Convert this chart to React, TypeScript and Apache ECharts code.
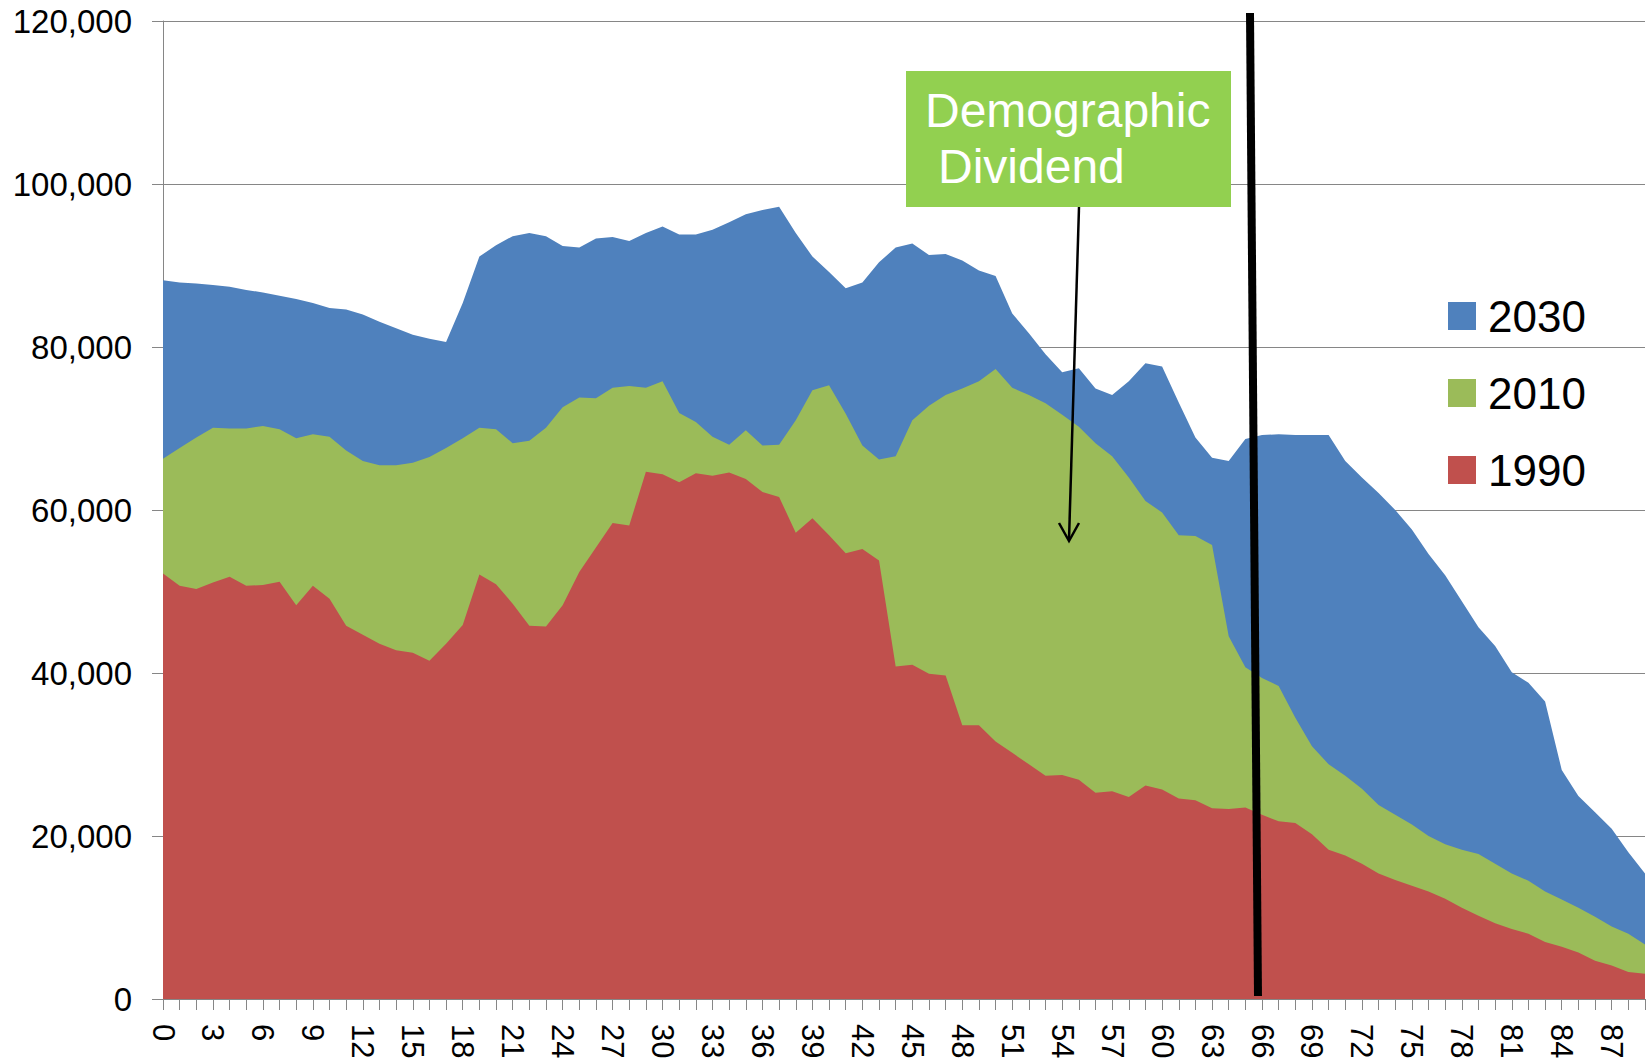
import React, { useEffect, useRef } from "react";
import * as echarts from "echarts";

const ages: string[] = Array.from({ length: 90 }, (_, i) => String(i));

const pop2030: number[] = [
  88200, 87900, 87800, 87600, 87400, 87000, 86700, 86300, 85900, 85400,
  84800, 84600, 84000, 83100, 82300, 81500, 81000, 80600, 85400, 91100,
  92500, 93600, 94000, 93600, 92400, 92200, 93300, 93500, 93000, 94000,
  94800, 93800, 93800, 94400, 95300, 96300, 96800, 97200, 94000, 91100,
  89200, 87200, 87900, 90400, 92200, 92700, 91300, 91400, 90600, 89400,
  88700, 84100, 81700, 79100, 76900, 77400, 74900, 74100, 75800, 78000,
  77600, 73200, 68900, 66400, 66000, 68700, 69200, 69300, 69200, 69200,
  69200, 66000, 64000, 62100, 60000, 57600, 54600, 52000, 48800, 45600,
  43300, 40100, 38800, 36500, 28100, 24900, 22900, 20900, 18000, 15400,
];

const pop2010: number[] = [
  66300, 67600, 68900, 70100, 70000, 70000, 70300, 69900, 68800, 69300,
  69000, 67300, 66000, 65500, 65500, 65800, 66500, 67600, 68800, 70100,
  69900, 68200, 68500, 70100, 72600, 73800, 73700, 75000, 75200, 75000,
  75800, 71900, 70800, 69000, 68000, 69800, 67900, 68000, 71000, 74700,
  75300, 71800, 67900, 66200, 66600, 71000, 72800, 74100, 74900, 75800,
  77300, 75000, 74100, 73100, 71700, 70200, 68200, 66600, 64000, 61100,
  59700, 56900, 56800, 55700, 44500, 40700, 39400, 38400, 34500, 31000,
  28800, 27400, 25800, 23800, 22600, 21400, 20000, 19000, 18300, 17800,
  16600, 15400, 14500, 13200, 12200, 11200, 10100, 8900, 8000, 6700,
];

const pop1990: number[] = [
  52200, 50700, 50300, 51100, 51800, 50700, 50800, 51200, 48300, 50700,
  49100, 45800, 44700, 43600, 42800, 42500, 41500, 43600, 45900, 52100,
  50900, 48500, 45800, 45700, 48300, 52400, 55400, 58400, 58100, 64700,
  64400, 63400, 64500, 64200, 64600, 63800, 62200, 61600, 57200, 59000,
  56900, 54700, 55200, 53800, 40800, 41000, 39900, 39700, 33600, 33600,
  31600, 30200, 28800, 27400, 27500, 26900, 25300, 25500, 24800, 26200,
  25700, 24600, 24400, 23400, 23300, 23500, 22600, 21800, 21600, 20200,
  18300, 17600, 16600, 15400, 14600, 13900, 13200, 12300, 11200, 10200,
  9300, 8600, 8000, 7000, 6400, 5700, 4700, 4100, 3300, 3100,
];

const seriesNames: string[] = ["2030", "2010", "1990"];
const seriesColors: string[] = ["#4F81BD", "#9BBB59", "#C0504D"];
const yTicks = { min: 0, max: 120000, interval: 20000 };

const FONT = "'Liberation Sans', Arial, sans-serif";

export default function App() {
  const ref = useRef<HTMLDivElement>(null);

  useEffect(() => {
    if (!ref.current) return;
    const chart = echarts.init(ref.current, null, { renderer: "svg" });
    const data = [pop2030, pop2010, pop1990];
    const option: any = {
      animation: false,
      backgroundColor: "#ffffff",
      grid: { left: 163, right: 1, top: 21, bottom: 65, containLabel: false },
      legend: {
        orient: "vertical",
        left: 1448,
        top: 294,
        padding: 0,
        icon: "rect",
        itemWidth: 28,
        itemHeight: 28,
        itemGap: 33,
        data: seriesNames,
        itemStyle: { borderWidth: 0 },
        textStyle: {
          fontSize: 44,
          fontFamily: FONT,
          color: "#000",
          padding: [0, 0, 0, 7],
        },
      },
      xAxis: {
        type: "category",
        data: ages,
        boundaryGap: false,
        axisLine: { lineStyle: { color: "#868686", width: 1 } },
        axisTick: {
          show: true,
          interval: 0,
          length: 11,
          lineStyle: { color: "#868686" },
        },
        axisLabel: {
          interval: 2,
          rotate: -90,
          fontSize: 31,
          fontFamily: FONT,
          color: "#000",
          margin: 25,
        },
        splitLine: { show: false },
      },
      yAxis: {
        type: "value",
        min: yTicks.min,
        max: yTicks.max,
        interval: yTicks.interval,
        axisLine: { show: true, lineStyle: { color: "#868686", width: 1 } },
        axisTick: { show: true, length: 11, lineStyle: { color: "#868686" } },
        axisLabel: {
          fontSize: 33,
          fontFamily: FONT,
          color: "#000",
          margin: 31,
          formatter: (v: number) => v.toLocaleString("en-US"),
        },
        splitLine: { show: true, lineStyle: { color: "#868686", width: 1 } },
      },
      series: seriesNames.map((name, i) => ({
        name,
        type: "line",
        data: data[i],
        showSymbol: false,
        symbol: "none",
        lineStyle: { width: 0 },
        itemStyle: { color: seriesColors[i] },
        areaStyle: { color: seriesColors[i], opacity: 1 },
        z: 2 + i,
      })),
      graphic: [
        {
          type: "rect",
          shape: { x: 906, y: 71, width: 325, height: 136 },
          style: { fill: "#92D050" },
          z: 100,
        },
        {
          type: "text",
          z: 101,
          style: {
            text: "Demographic",
            x: 925,
            y: 110,
            fill: "#ffffff",
            font: `48px ${FONT}`,
            verticalAlign: "middle",
          },
        },
        {
          type: "text",
          z: 101,
          style: {
            text: "Dividend",
            x: 938,
            y: 166,
            fill: "#ffffff",
            font: `48px ${FONT}`,
            verticalAlign: "middle",
          },
        },
        {
          type: "line",
          z: 100,
          shape: { x1: 1079, y1: 207, x2: 1069, y2: 540 },
          style: { stroke: "#000", lineWidth: 2.5 },
        },
        {
          type: "polyline",
          z: 100,
          shape: { points: [[1059, 523], [1069, 541], [1079, 523]] },
          style: { stroke: "#000", lineWidth: 2.5, fill: null },
        },
        {
          type: "line",
          z: 100,
          shape: { x1: 1250, y1: 13, x2: 1258, y2: 996 },
          style: { stroke: "#000", lineWidth: 8 },
        },
      ],
    };
    chart.setOption(option);
    return () => chart.dispose();
  }, []);

  return (
    <div
      ref={ref}
      style={{ position: "absolute", left: 0, top: 0, width: 1646, height: 1064 }}
    />
  );
}
